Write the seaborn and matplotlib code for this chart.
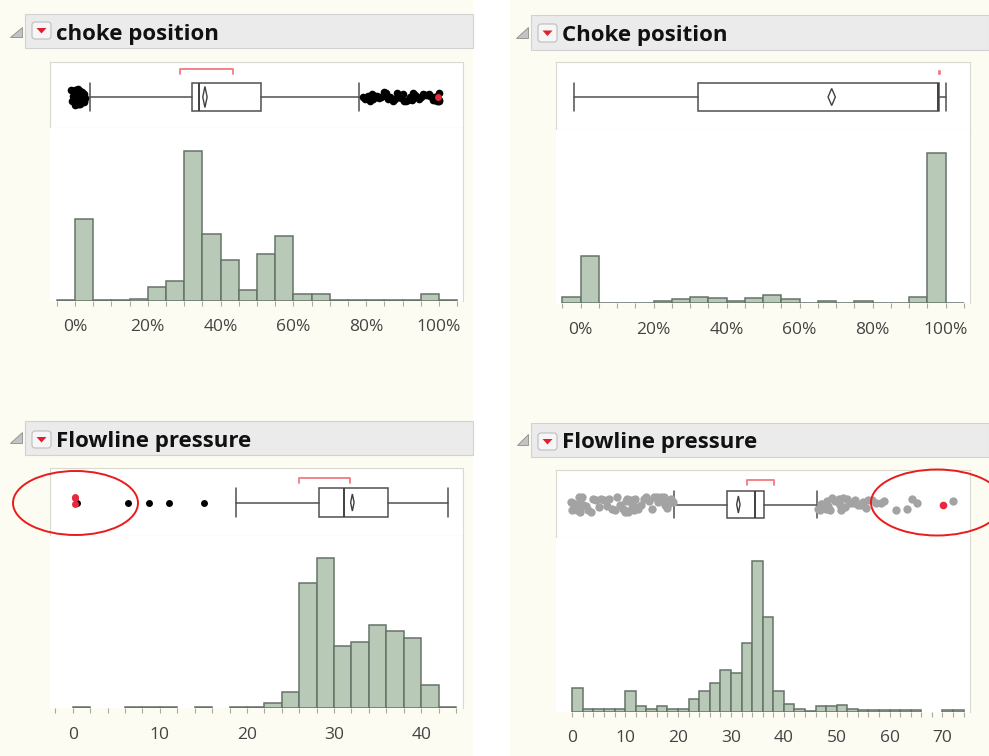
import numpy as np
import matplotlib
matplotlib.use("Agg")
import matplotlib.pyplot as plt
import seaborn as sns
from matplotlib.patches import Rectangle, Polygon, Ellipse, FancyBboxPatch

# ---------------- data ----------------
titles = ["choke position", "Choke position", "Flowline pressure", "Flowline pressure"]

pct_ticks = [0, 20, 40, 60, 80, 100]
pct_tick_labels = ["0%", "20%", "40%", "60%", "80%", "100%"]
bl_ticks = [0, 10, 20, 30, 40]
bl_tick_labels = ["0", "10", "20", "30", "40"]
br_ticks = [0, 10, 20, 30, 40, 50, 60, 70]
br_tick_labels = ["0", "10", "20", "30", "40", "50", "60", "70"]

# histogram bin edges and counts
tl_edges = list(range(-5, 106, 5))
tl_counts = [1, 244, 1, 1, 4, 40, 59, 449, 201, 122, 32, 140, 194, 19, 19, 1, 1, 1, 1, 1, 19, 1]
tr_edges = list(range(-5, 106, 5))
tr_counts = [20, 142, 2, 2, 2, 6, 13, 20, 17, 6, 17, 24, 13, 2, 6, 2, 6, 2, 2, 20, 452, 2]
bl_edges = list(range(-2, 45, 2))
bl_counts = [0, 3, 0, 0, 3, 3, 3, 0, 3, 0, 3, 3, 15, 50, 377, 452, 187, 200, 249, 233, 212, 70, 3]
br_edges = list(range(0, 75, 2))
br_counts = [70, 8, 8, 8, 8, 62, 17, 8, 17, 8, 8, 37, 62, 87, 124, 117, 206, 453, 285, 62,
             23, 8, 3, 17, 17, 21, 8, 4, 4, 4, 4, 4, 4, 0, 0, 4, 4]

# box plot statistics: whislo, q1, median, q3, whishi
tl_box = [4.1, 32.1, 34.1, 51.1, 78.0]
tr_box = [-1.8, 32.1, 98.0, 98.2, 100.1]
bl_box = [18.7, 28.3, 31.1, 36.2, 43.1]
br_box = [19.3, 29.3, 34.5, 36.3, 46.3]
# mean and half-width of its confidence diamond
tl_mean = [35.7, 0.6]
tr_mean = [68.8, 1.0]
bl_mean = [32.1, 0.2]
br_mean = [31.4, 0.32]
# shortest half bracket
tl_short = [28.8, 43.4]
tr_short = [98.2, 98.5]
bl_short = [26.0, 31.8]
br_short = [33.1, 38.1]

# outliers
tl_out_low = [-1.0, -0.8, -0.5, -0.3, 0, 0, 0, 0, 0, 0, 0, 0, 0.1, 0.2, 0.3, 0.4, 0.5, 0.6,
              0.7, 0.8, 0.9, 1.0, 1.1, 1.2, 1.3, 1.4, 1.5, 1.6, 1.7, 1.8, 1.9, 2.0, 2.1, 2.2,
              2.3, 2.4, 2.5, 2.6, 2.7, 0.0, 0.5, 1.0, 1.5, 2.0]
tl_out_high = [79.2, 79.8, 80.5, 81.0, 81.5, 82.0, 82.5, 83.0, 83.6, 84.0, 84.6, 85.0, 85.5,
               86.0, 86.5, 87.0, 87.5, 88.0, 88.5, 89.0, 89.5, 90.0, 90.5, 91.0, 91.5, 92.0,
               92.5, 93.0, 93.5, 94.0, 94.5, 95.0, 95.5, 96.0, 96.5, 97.0, 97.3, 97.6, 98.0,
               98.3, 98.6, 99.0, 99.0, 99.3, 99.5, 99.7, 100.0, 100.0, 100.0, 99.8]
tl_out_red = [99.8]
bl_out_low = [0.45]
bl_out_red = [0.25, 0.25, 0.28]
bl_out_mid = [6.4, 8.7, 11.1, 15.1]
br_out_low = [-0.3, 0, 0.2, 0.4, 0.6, 0.8, 1.0, 1.2, 1.4, 1.6, 1.8, 2.0, 2.5, 3.0, 3.5, 4.0,
              4.5, 5.0, 5.5, 6.0, 6.5, 7.0, 7.5, 8.0, 8.5, 9.0, 9.5, 10.0, 10.2, 10.4, 10.6,
              10.8, 11.0, 11.2, 11.4, 11.6, 11.8, 12.0, 12.5, 13.0, 13.5, 14.0, 14.5, 15.0,
              15.5, 16.0, 16.3, 16.6, 17.0, 17.3, 17.6, 18.0, 18.3, 18.6, 19.0, 0.5, 1.5,
              10.5, 11.5, 16.8]
br_out_high = [46.4, 46.8, 47.2, 47.6, 48.0, 48.4, 48.8, 49.2, 49.6, 50.0, 50.4, 50.8, 51.2,
               51.6, 52.0, 52.5, 53.0, 53.5, 54.0, 54.5, 55.0, 55.5, 56.0, 56.7, 57.5, 58.3,
               59.0, 61.3, 63.2, 64.2, 65.1, 72.0, 47.0, 48.2, 50.6]
br_out_red = [70.1]

# ---------------- style ----------------
sns.set_style("white")
plt.rcParams["font.family"] = ["Open Sans", "DejaVu Sans"]

CREAM = "#fdfcf2"
BAR = "#b8c9b7"
BAR_EDGE = "#66736a"
FRAME = "#d9d9d0"
BOXC = "#505050"
RED = "#e8283c"
GREY_PT = "#a3a3a3"

W, H = 989, 756
fig = plt.figure(figsize=(W / 100, H / 100), dpi=100)
fig.patch.set_facecolor(CREAM)
np.random.seed(7)


def add_ax(x0, y0, x1, y1, z=1):
    ax = fig.add_axes([x0 / W, 1 - y1 / H, (x1 - x0) / W, (y1 - y0) / H])
    ax.set_zorder(z)
    return ax


bg = add_ax(0, 0, W, H, z=-1)
bg.set_xlim(0, W)
bg.set_ylim(H, 0)
bg.axis("off")
bg.add_patch(Rectangle((473, 0), 37, H, facecolor="white", edgecolor="none"))


def header(band, tri, dd, title, tx, ty):
    bx0, by0, bx1, by1 = band
    bg.add_patch(Rectangle((bx0, by0), bx1 - bx0, by1 - by0, facecolor="#ebebeb",
                           edgecolor="#d2d2d2", lw=0.8))
    tx0, ty0, tx1, ty1 = tri
    bg.add_patch(Polygon([(tx0, ty1), (tx1, ty1), (tx1, ty0)], closed=True,
                         facecolor="#c4c4c4", edgecolor="#8c8c8c", lw=0.6))
    dx0, dy0, dx1, dy1 = dd
    bg.add_patch(FancyBboxPatch((dx0, dy0), dx1 - dx0, dy1 - dy0,
                                boxstyle="round,pad=0,rounding_size=3",
                                facecolor="#f6f6f6", edgecolor="#bdbdbd", lw=0.8))
    cx, cy = (dx0 + dx1) / 2, (dy0 + dy1) / 2
    bg.add_patch(Polygon([(cx - 5, cy - 2.5), (cx + 5, cy - 2.5), (cx, cy + 3)], closed=True,
                         facecolor="#e0202c", edgecolor="none"))
    bg.text(tx, ty, title, fontsize=16, fontweight="bold", color="#111111",
            va="baseline", ha="left")


S = 40.0  # pixels per unit on box-plot vertical axis


def box_panel(frame, center, boxh, xlim, stats, mean, mean_vh, short, short_y, short_t, groups):
    x0, y0, x1, y1 = frame
    ax = add_ax(x0, y0, x1, y1, z=1)
    ax.set_facecolor("white")
    for vals, color, size, jit in groups:
        sns.stripplot(x=vals, ax=ax, color=color, size=size, jitter=jit,
                      linewidth=0, zorder=4)
    wl, q1, md, q3, wh = stats
    ax.bxp([dict(whislo=wl, q1=q1, med=md, q3=q3, whishi=wh, fliers=[])],
           positions=[0], widths=boxh / S, capwidths=boxh / S, orientation="horizontal",
           showfliers=False, manage_ticks=False, patch_artist=True,
           boxprops=dict(facecolor="white", edgecolor=BOXC, lw=1.1),
           whiskerprops=dict(color=BOXC, lw=1.1), capprops=dict(color=BOXC, lw=1.1),
           medianprops=dict(color="#404040", lw=1.4))
    m, hw = mean
    vh = mean_vh / S
    ax.add_patch(Polygon([(m - hw, 0), (m, -vh), (m + hw, 0), (m, vh)], closed=True,
                         fill=False, edgecolor="#404040", lw=1.0, zorder=3))
    yb = (short_y - center) / S
    t = short_t / S
    ax.plot([short[0], short[0], short[1], short[1]], [yb + t, yb, yb, yb + t],
            color="#f07a80", lw=1.3, zorder=3)
    ax.set_xlim(*xlim)
    ax.set_ylim((y1 - center) / S, (y0 - center) / S)
    ax.set_xticks([])
    ax.set_yticks([])
    ax.set_xlabel("")
    ax.set_ylabel("")
    for sp in ax.spines.values():
        sp.set_color(FRAME)
        sp.set_linewidth(0.8)
        sp.set_visible(True)
    return ax


def hist_panel(rect, edges, counts, xlim, ytop, ticks, labels):
    x0, y0, x1, y1 = rect
    ax = add_ax(x0, y0, x1, y1, z=1)
    ax.set_facecolor("white")
    centers = [(a + b) / 2 for a, b in zip(edges[:-1], edges[1:])]
    sns.histplot(x=centers, weights=counts, bins=edges, ax=ax, color=BAR,
                 edgecolor=BAR_EDGE, linewidth=1.1, alpha=1)
    for p in ax.patches:
        if p.get_height() <= 0:
            p.set_visible(False)
    ax.set_xlim(*xlim)
    ax.set_ylim(0, ytop)
    ax.set_yticks([])
    ax.set_ylabel("")
    ax.set_xlabel("")
    ax.set_xticks(ticks, labels=labels)
    ax.set_xticks(edges, minor=True)
    ax.tick_params(axis="x", which="both", bottom=True, length=3.5, width=0.8,
                   color="#a8a8a8", labelcolor="#444444", labelsize=12.5, pad=10)
    for k in ("top", "left", "bottom"):
        ax.spines[k].set_visible(False)
    ax.spines["right"].set_color(FRAME)
    ax.spines["right"].set_linewidth(0.8)
    return ax


# ---- top-left ----
header((25, 14, 473, 48), (10, 27, 22, 37), (32, 22, 51, 39), titles[0], 56, 40)
box_panel((50, 62, 463, 128), 97, 28, (-6.87, 106.6), tl_box, tl_mean, 10.5, tl_short, 69, 5,
          [(tl_out_low, "black", 5.5, 0.2), (tl_out_high, "black", 5.5, 0.12),
           (tl_out_red, RED, 5, 0.15)])
hist_panel((50, 128, 463, 300.7), tl_edges, tl_counts, (-6.87, 106.6), (300.7 - 128) * 3,
           pct_ticks, pct_tick_labels)

# ---- top-right ----
header((531, 15, 989, 50), (516, 27, 528, 38), (538, 24, 557, 42), titles[1], 562, 41)
box_panel((556, 62, 970, 130), 97, 28, (-6.75, 106.7), tr_box, tr_mean, 8.5, tr_short, 71, 3,
          [])
hist_panel((556, 130, 970, 303.3), tr_edges, tr_counts, (-6.75, 106.7), (303.3 - 130) * 3,
           pct_ticks, pct_tick_labels)

# ---- bottom-left ----
header((25, 421, 473, 455), (10, 432, 22, 443), (32, 431, 51, 448), titles[2], 56, 447)
box_panel((50, 468, 463, 536), 502.5, 29, (-2.61, 44.8), bl_box, bl_mean, 8.5, bl_short, 478,
          5, [(bl_out_mid, "black", 5, 0), (bl_out_low, "black", 5, 0.2),
              (bl_out_red, RED, 5, 0.15)])
hist_panel((50, 536, 463, 708.3), bl_edges, bl_counts, (-2.61, 44.8), (708.3 - 536) * 3,
           bl_ticks, bl_tick_labels)

# ---- bottom-right ----
header((531, 423, 989, 457), (517, 434, 528, 445), (538, 433, 557, 450), titles[3], 562, 448)
box_panel((556, 470, 970, 538), 504.5, 27, (-3.08, 75.2), br_box, br_mean, 8.5, br_short, 480,
          5, [(br_out_low, GREY_PT, 6, 0.2), (br_out_high, GREY_PT, 6, 0.17),
              (br_out_red, RED, 5.5, 0.03)])
hist_panel((556, 538, 970, 711.7), br_edges, br_counts, (-3.08, 75.2), (711.7 - 538) * 3,
           br_ticks, br_tick_labels)

# ---- annotation ellipses ----
fg = add_ax(0, 0, W, H, z=10)
fg.set_xlim(0, W)
fg.set_ylim(H, 0)
fg.axis("off")
fg.add_patch(Ellipse((75.5, 503), 125, 64, fill=False, edgecolor="#e81c1c", lw=1.4))
fg.add_patch(Ellipse((937, 502.5), 132, 66, fill=False, edgecolor="#e81c1c", lw=1.4))

fig.savefig("out.png", dpi=100, facecolor=CREAM)
